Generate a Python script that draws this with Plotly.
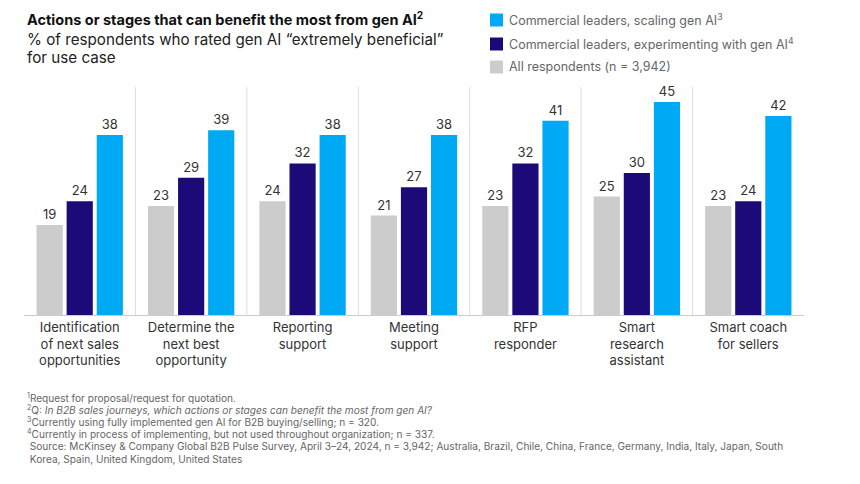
import plotly.graph_objects as go

categories = [
    "Identification<br>of next sales<br>opportunities",
    "Determine the<br>next best<br>opportunity",
    "Reporting<br>support",
    "Meeting<br>support",
    "RFP<br>responder",
    "Smart<br>research<br>assistant",
    "Smart coach<br>for sellers",
]
all_respondents = [19, 23, 24, 21, 23, 25, 23]
experimenting = [24, 29, 32, 27, 32, 30, 24]
scaling = [38, 39, 38, 38, 41, 45, 42]

series_names = [
    "All respondents (n = 3,942)",
    "Commercial leaders, experimenting with gen AI<sup>4</sup>",
    "Commercial leaders, scaling gen AI<sup>3</sup>",
]
series_values = [all_respondents, experimenting, scaling]
series_colors = ["#CCCCCC", "#1B0A78", "#00A9F4"]

subtitle_lines = [
    "% of respondents who rated gen AI \u201cextremely beneficial\u201d",
    "for use case",
]

footnotes = [
    "<sup>1</sup>Request for proposal/request for quotation.",
    "<sup>2</sup>Q: <i>In B2B sales journeys, which actions or stages can benefit the most from gen AI?</i>",
    "<sup>3</sup>Currently using fully implemented gen AI for B2B buying/selling; n = 320.",
    "<sup>4</sup>Currently in process of implementing, but not used throughout organization; n = 337.",
    "\u00a0Source: McKinsey & Company Global B2B Pulse Survey, April 3\u201324, 2024, n = 3,942; Australia, Brazil, Chile, China, France, Germany, India, Italy, Japan, South",
    "\u00a0Korea, Spain, United Kingdom, United States",
]

FONT = "Inter, Liberation Sans, Arial, sans-serif"
x = list(range(len(categories)))

fig = go.Figure()
for i, (name, vals, col) in enumerate(zip(series_names, series_values, series_colors)):
    fig.add_trace(go.Bar(
        x=x, y=vals, name=name, marker=dict(color=col, line=dict(width=0)),
        text=[str(v) for v in vals], textposition="outside",
        textfont=dict(family=FONT, size=13, color="#333333"),
        cliponaxis=False, showlegend=False,
    ))

W, H = 860, 484
L, R, T, B = 24, 56, 87, 169
pw, ph = W - L - R, H - T - B

def px(xp):
    return (xp - L) / pw

def py(yp):
    return (H - B - yp) / ph

shapes = []
for k in range(len(categories) - 1):
    shapes.append(dict(type="line", xref="x", yref="paper", x0=k + 0.5, x1=k + 0.5,
                       y0=0, y1=1, line=dict(color="#DDDDDD", width=1)))

annotations = [
    dict(xref="paper", yref="paper", x=px(25), y=py(18), xanchor="left", yanchor="middle",
         text="<b>Actions or stages that can benefit the most from gen AI<sup>2</sup></b>",
         showarrow=False, font=dict(family=FONT, size=14.5, color="#111111")),
]
for j, line in enumerate(subtitle_lines):
    annotations.append(dict(xref="paper", yref="paper", x=px(25), y=py(40 + j * 18),
                            xanchor="left", yanchor="middle", text=line, showarrow=False,
                            font=dict(family=FONT, size=15.2, color="#222222")))

# custom legend (top to bottom: scaling, experimenting, all)
legend_rows = [(2, 20), (1, 44), (0, 67)]
for idx, yc in legend_rows:
    shapes.append(dict(type="rect", xref="paper", yref="paper",
                       x0=px(490), x1=px(503), y0=py(yc + 6.5), y1=py(yc - 6.5),
                       fillcolor=series_colors[idx], line=dict(width=0)))
    annotations.append(dict(xref="paper", yref="paper", x=px(507), y=py(yc),
                            xanchor="left", yanchor="middle", text=series_names[idx],
                            showarrow=False, font=dict(family=FONT, size=12.5, color="#666666")))

for j, line in enumerate(footnotes):
    annotations.append(dict(xref="paper", yref="paper", x=px(25), y=py(397 + j * 12.3),
                            xanchor="left", yanchor="middle", text=line, showarrow=False,
                            align="left", font=dict(family=FONT, size=10.1, color="#666666")))

fig.update_layout(
    width=W, height=H, margin=dict(l=L, r=R, t=T, b=B),
    paper_bgcolor="white", plot_bgcolor="white",
    barmode="group", bargap=0.19, bargroupgap=0.13,
    showlegend=False,
    xaxis=dict(tickmode="array", tickvals=x, ticktext=categories, range=[-0.5, 6.5],
               showgrid=False, zeroline=False, showline=True, linecolor="#CCCCCC", linewidth=1,
               ticks="", tickfont=dict(family=FONT, size=13, color="#333333")),
    yaxis=dict(range=[0, 48.15], visible=False, showgrid=False, zeroline=False),
    shapes=shapes, annotations=annotations,
)

fig.write_html("out.html")
